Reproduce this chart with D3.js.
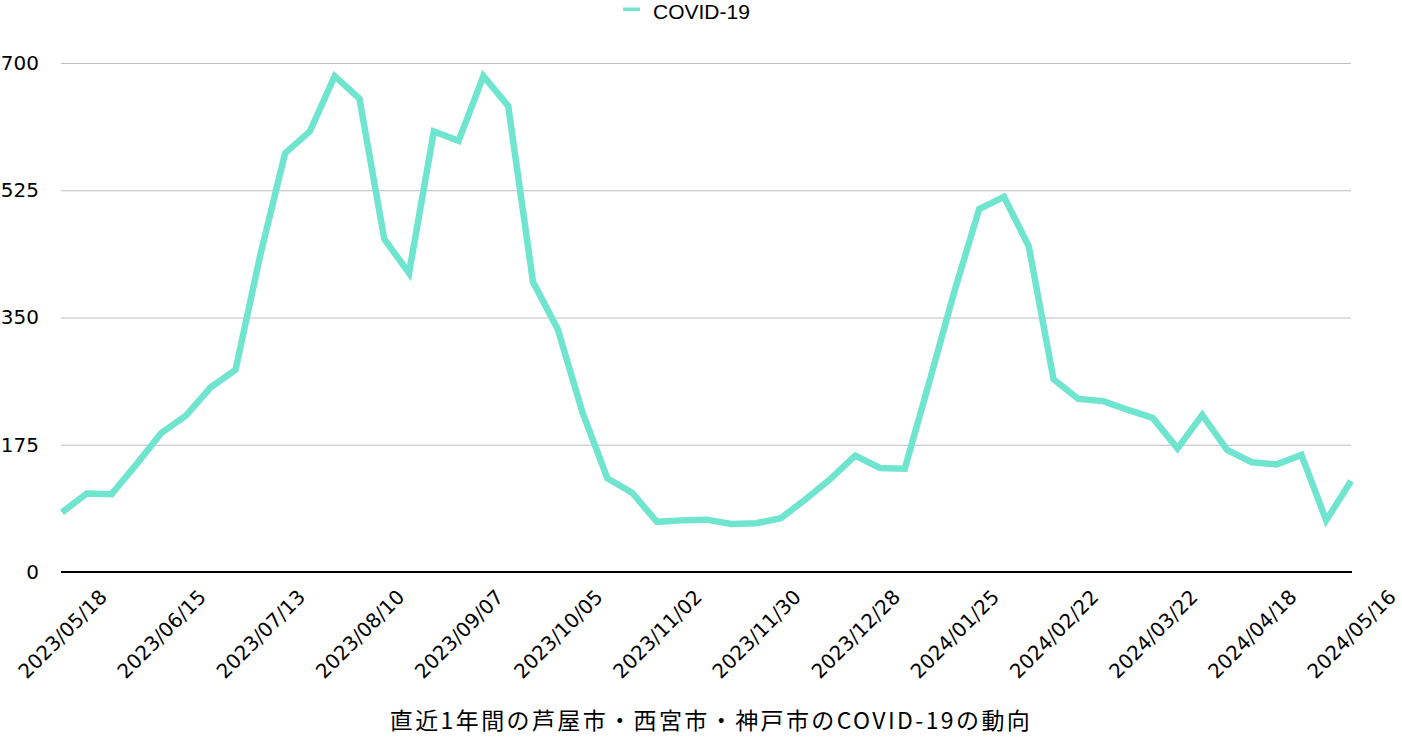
<!DOCTYPE html>
<html><head><meta charset="utf-8">
<script src="https://cdn.jsdelivr.net/npm/d3@7"></script>
<style>body{margin:0;background:#fff}svg{display:block}</style>
</head><body>
<svg id="c" width="1402" height="740"></svg>
<script>
const dates = ["2023/05/18","2023/05/25","2023/06/01","2023/06/08","2023/06/15","2023/06/22","2023/06/29","2023/07/06","2023/07/13","2023/07/20","2023/07/27","2023/08/03","2023/08/10","2023/08/17","2023/08/24","2023/08/31","2023/09/07","2023/09/14","2023/09/21","2023/09/28","2023/10/05","2023/10/12","2023/10/19","2023/10/26","2023/11/02","2023/11/09","2023/11/16","2023/11/23","2023/11/30","2023/12/07","2023/12/14","2023/12/21","2023/12/28","2024/01/04","2024/01/11","2024/01/18","2024/01/25","2024/02/01","2024/02/08","2024/02/15","2024/02/22","2024/02/29","2024/03/07","2024/03/14","2024/03/22","2024/03/28","2024/04/04","2024/04/11","2024/04/18","2024/04/25","2024/05/02","2024/05/09","2024/05/16"];
const covid = [82,108,107,148,191,215,254,278,436,576,606,682,651,458,411,606,593,682,641,399,334,219,129,109,69,71,72,66,67,74,100,128,160,143,142,263,386,499,516,448,265,238,235,223,212,170,216,168,151,148,161,71,125];
const yTicks = [0,175,350,525,700];
const xTickLabels = dates.filter((d,i)=>i%4===0);
const seriesName = "COVID-19";
const title = "直近1年間の芦屋市・西宮市・神戸市のCOVID-19の動向";

const svg = d3.select("#c");
const L=61, R=1351, T=63, B=572;
const x = d3.scalePoint().domain(dates).range([62,1351]);
const y = d3.scaleLinear().domain([0,700]).range([B,T]);
const numFont = "'DejaVu Sans',sans-serif";
const cjkFont = "'Noto Sans CJK JP','Noto Sans',sans-serif";

// grid
svg.append("g").selectAll("line").data(yTicks.filter(v=>v>0)).join("line")
  .attr("x1",L).attr("x2",R).attr("y1",d=>y(d)+0.5).attr("y2",d=>y(d)+0.5)
  .attr("stroke","#bdbdbd").attr("stroke-width",1);

// y axis labels
const ya = svg.append("g").attr("transform",`translate(${L},0)`)
  .call(d3.axisLeft(y).tickValues(yTicks).tickSize(0).tickPadding(22));
ya.select(".domain").remove();
ya.selectAll("text").attr("font-family",numFont).attr("font-size",20).attr("fill","#000");

// line
const line = d3.line().x((d,i)=>x(dates[i])).y(d=>y(d));
svg.append("path").datum(covid).attr("d",line).attr("fill","none")
  .attr("stroke","#6fe5cf").attr("stroke-width",6.5).attr("stroke-linejoin","miter").attr("stroke-miterlimit",10);

// x axis
const xa = svg.append("g").attr("transform",`translate(0,${B})`)
  .call(d3.axisBottom(x).tickValues(xTickLabels).tickSize(0));
xa.select(".domain").remove();
xa.selectAll("text").attr("font-family",numFont).attr("font-size",20).attr("fill","#000")
  .attr("text-anchor","middle").attr("dy",0).attr("y",0)
  .attr("transform","translate(0,62) rotate(-45)").attr("dominant-baseline","central");
svg.append("line").attr("x1",L).attr("x2",R+1).attr("y1",B).attr("y2",B).attr("stroke","#000").attr("stroke-width",2);

// legend
svg.append("rect").attr("x",623).attr("y",7.5).attr("width",17).attr("height",3.5).attr("fill","#6fe5cf");
svg.append("text").attr("x",653).attr("y",11).attr("dominant-baseline","central")
  .attr("font-family","'Liberation Sans',Arial,sans-serif").attr("font-size",21).text(seriesName);

// title
svg.append("text").attr("x",711).attr("y",719).attr("text-anchor","middle").attr("dominant-baseline","central")
  .attr("font-family",cjkFont).attr("font-size",23).attr("letter-spacing",2.4).text(title);
</script>
</body></html>
